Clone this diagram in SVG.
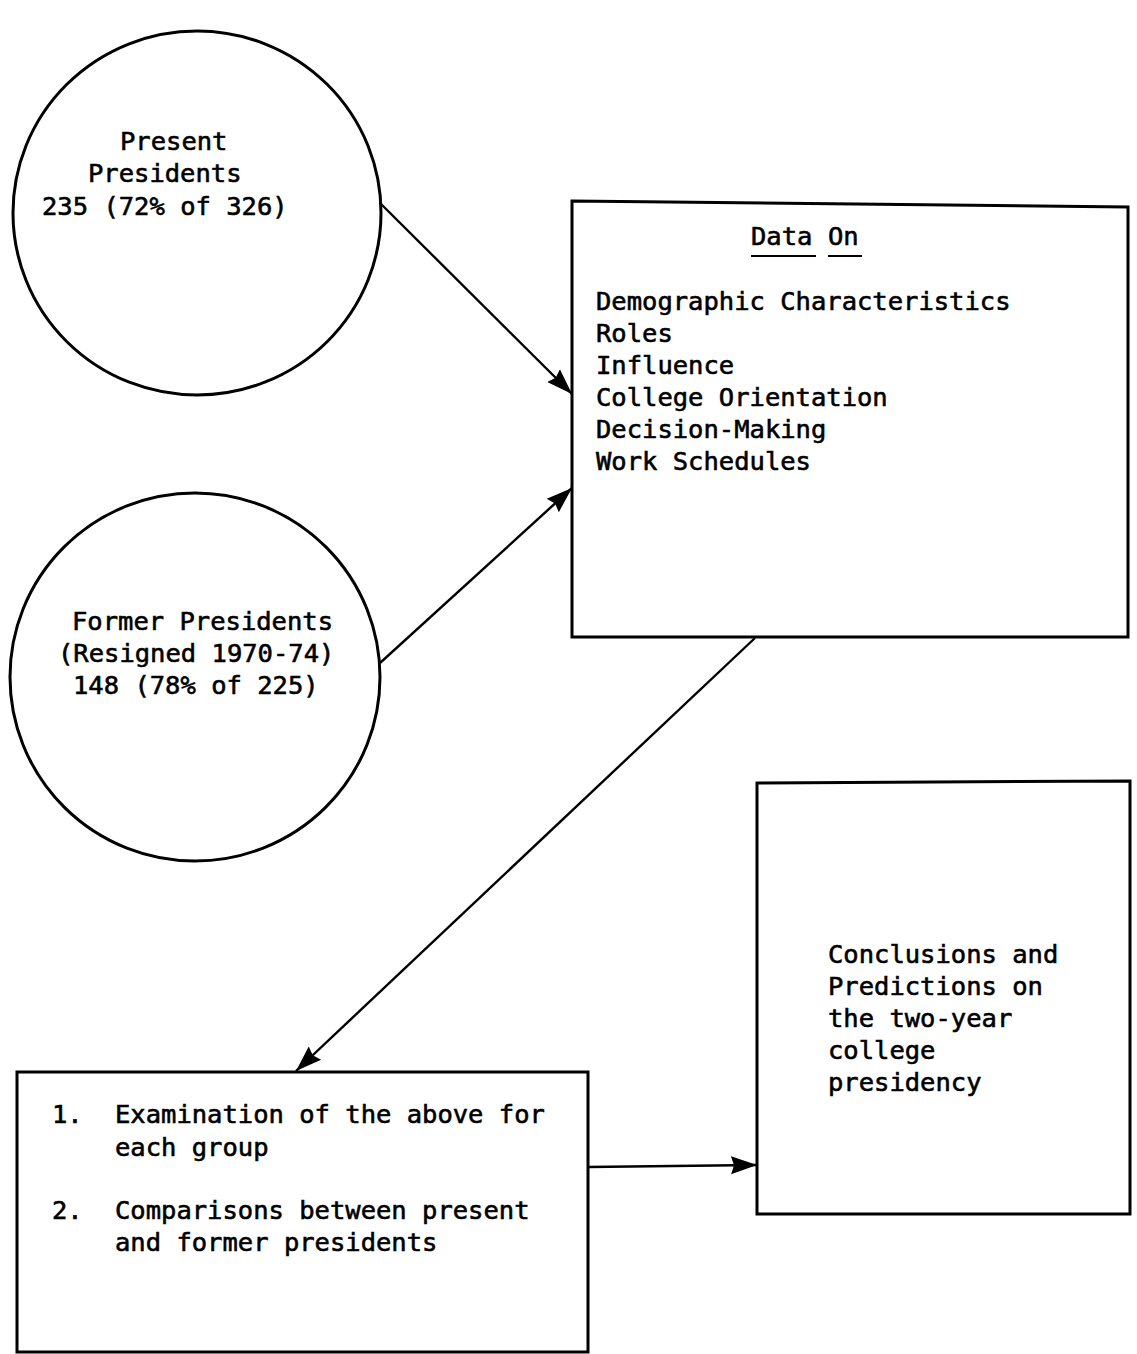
<svg xmlns="http://www.w3.org/2000/svg" width="1137" height="1354" viewBox="0 0 1137 1354">
  <style>
    .shape { fill: none; stroke: #000; stroke-width: 3; }
    .link { fill: none; stroke: #000; stroke-width: 2.4; }
    .txt { font-family: "DejaVu Sans Mono", "Liberation Mono", monospace; font-size: 25.5px; fill: #000; stroke: #000; stroke-width: 0.6; }
  </style>
  <defs>
    <marker id="head" markerUnits="userSpaceOnUse" markerWidth="28" markerHeight="20" refX="26" refY="10" orient="auto">
      <path d="M0,1 L26,10 L0,19 L3,10 Z" fill="#000"/>
    </marker>
  </defs>
  <rect width="1137" height="1354" fill="#fff"/>

  <!-- Population: present presidents -->
  <g id="present">
    <ellipse class="shape" cx="197" cy="213" rx="184" ry="182"/>
    <text class="txt" x="120" y="150">Present</text>
    <text class="txt" x="88" y="182">Presidents</text>
    <text class="txt" x="42" y="215">235 (72% of 326)</text>
  </g>

  <!-- Population: former presidents -->
  <g id="former">
    <ellipse class="shape" cx="195" cy="677" rx="185" ry="184"/>
    <text class="txt" x="72" y="630">Former Presidents</text>
    <text class="txt" x="58" y="662">(Resigned 1970-74)</text>
    <text class="txt" x="73" y="694">148 (78% of 225)</text>
  </g>

  <!-- Data collected -->
  <g id="data">
    <path class="shape" d="M572,201 L1128,207 L1128,637 L572,637 Z"/>
    <text class="txt" x="751" y="245">Data</text>
    <text class="txt" x="828" y="245">On</text>
    <line x1="751" y1="256" x2="816" y2="256" stroke="#000" stroke-width="2.2"/>
    <line x1="828" y1="256" x2="862" y2="256" stroke="#000" stroke-width="2.2"/>
    <text class="txt" x="596" y="310">Demographic Characteristics</text>
    <text class="txt" x="596" y="342">Roles</text>
    <text class="txt" x="596" y="374">Influence</text>
    <text class="txt" x="596" y="406">College Orientation</text>
    <text class="txt" x="596" y="438">Decision-Making</text>
    <text class="txt" x="596" y="470">Work Schedules</text>
  </g>

  <!-- Analysis steps -->
  <g id="analysis">
    <path class="shape" d="M17,1072 L588,1072 L588,1352 L17,1352 Z"/>
    <text class="txt" x="52" y="1123">1.</text>
    <text class="txt" x="115" y="1123">Examination of the above for</text>
    <text class="txt" x="115" y="1156">each group</text>
    <text class="txt" x="52" y="1219">2.</text>
    <text class="txt" x="115" y="1219">Comparisons between present</text>
    <text class="txt" x="115" y="1251">and former presidents</text>
  </g>

  <!-- Outcome -->
  <g id="conclusions">
    <path class="shape" d="M757,783 L1130,781 L1130,1214 L757,1214 Z"/>
    <text class="txt" x="828" y="963">Conclusions and</text>
    <text class="txt" x="828" y="995">Predictions on</text>
    <text class="txt" x="828" y="1027">the two-year</text>
    <text class="txt" x="828" y="1059">college</text>
    <text class="txt" x="828" y="1091">presidency</text>
  </g>

  <!-- Connectors -->
  <g id="connectors">
    <line class="link" x1="380" y1="203" x2="572" y2="394" marker-end="url(#head)"/>
    <line class="link" x1="380" y1="663" x2="572" y2="488" marker-end="url(#head)"/>
    <line class="link" x1="755" y1="638" x2="296" y2="1071" marker-end="url(#head)"/>
    <line class="link" x1="588" y1="1167" x2="757" y2="1165" marker-end="url(#head)"/>
  </g>
</svg>
